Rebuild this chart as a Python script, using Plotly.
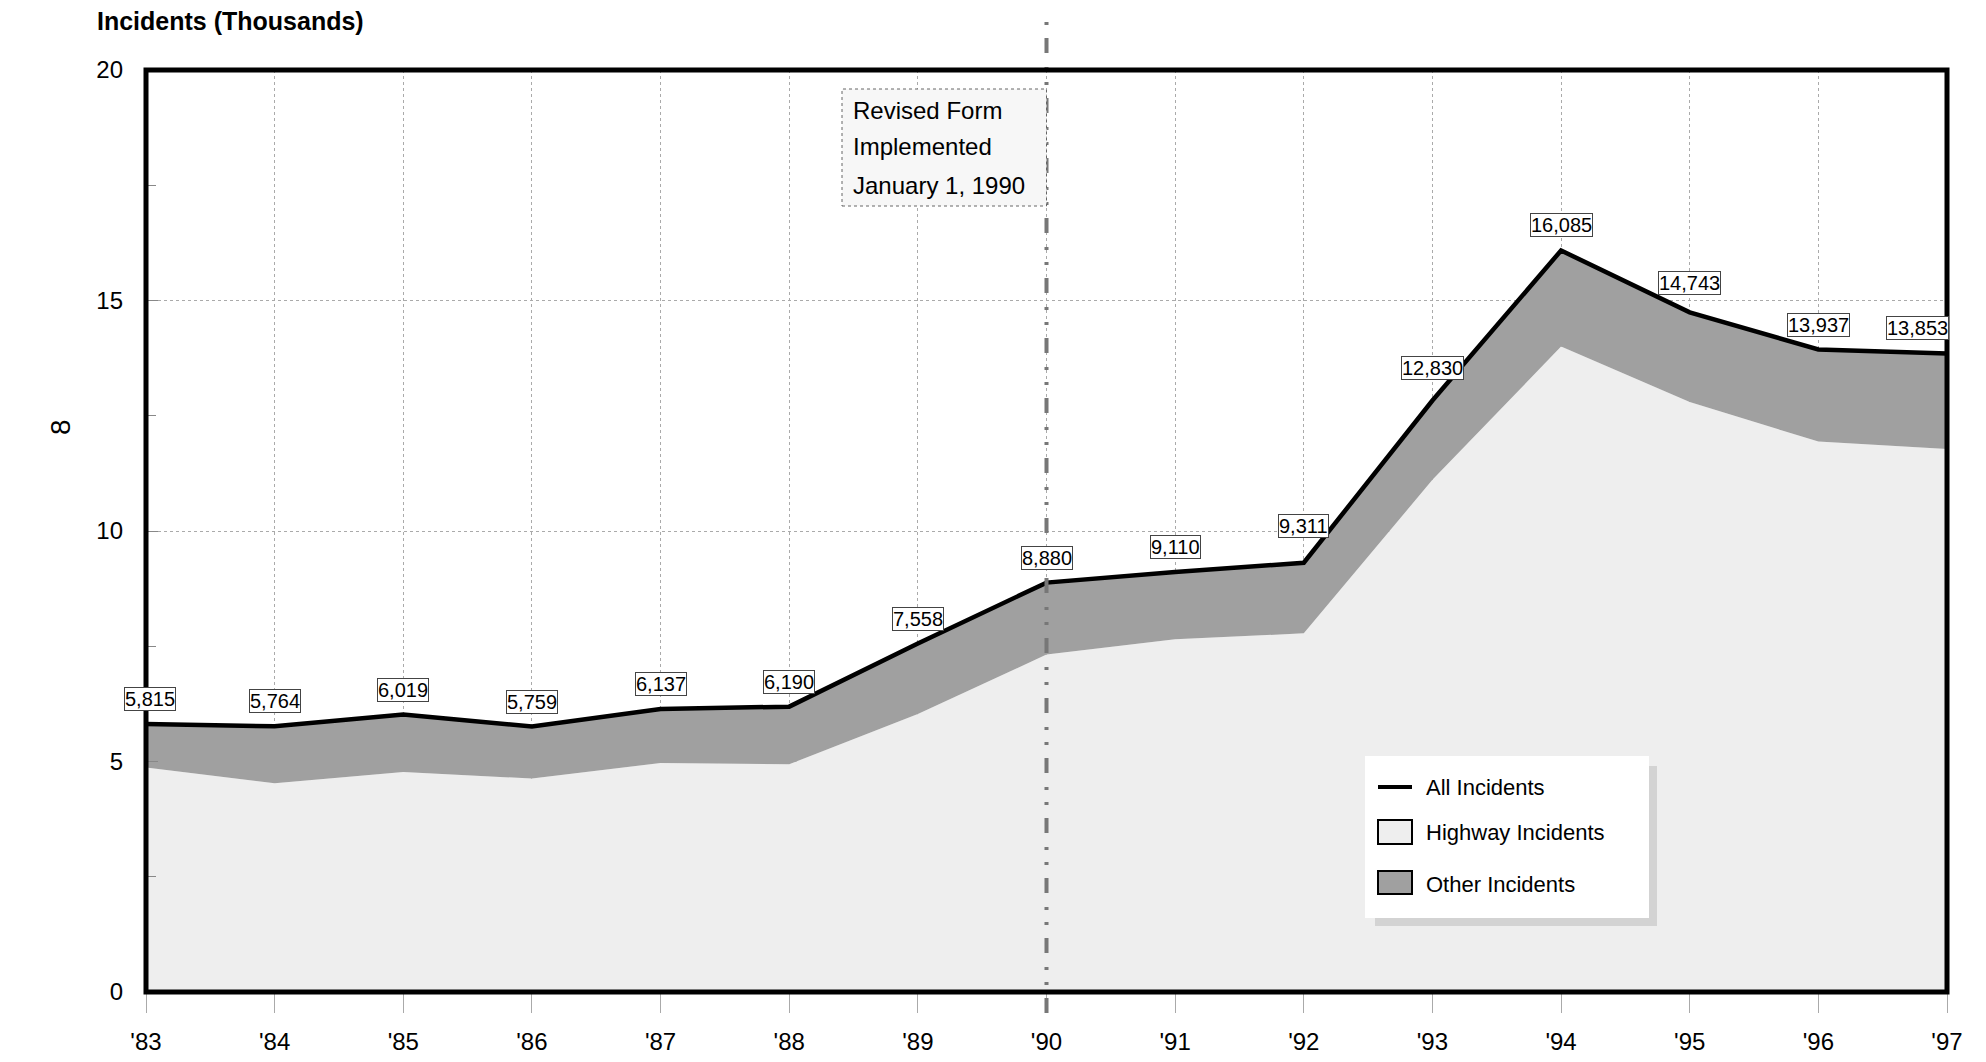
import plotly.graph_objects as go

# ---- data ----
years = [1983, 1984, 1985, 1986, 1987, 1988, 1989, 1990, 1991, 1992, 1993, 1994, 1995, 1996, 1997]
year_labels = ["'83", "'84", "'85", "'86", "'87", "'88", "'89", "'90", "'91", "'92", "'93", "'94", "'95", "'96", "'97"]
all_incidents = [5815, 5764, 6019, 5759, 6137, 6190, 7558, 8880, 9110, 9311, 12830, 16085, 14743, 13937, 13853]
highway_incidents = [4870, 4530, 4770, 4630, 4970, 4940, 6030, 7320, 7650, 7780, 11110, 14000, 12800, 11940, 11780]
y_ticks = [0, 5, 10, 15, 20]
series_names = ["All Incidents", "Highway Incidents", "Other Incidents"]
revision_year = 1990
revision_text = ["Revised Form", "Implemented", "January 1, 1990"]
y_title = "Incidents (Thousands)"

FONT = "Liberation Sans, Arial, sans-serif"
HWY_COLOR = "#EEEEEE"
OTHER_COLOR = "#A0A0A0"

# window geometry (page body has an 8px margin)
OFF = 8
WIN_W, WIN_H = 1986, 1062
PL, PR, PT, PB = 146, 1947, 70, 992   # plot area in window pixels
W, H = WIN_W - 2 * OFF, WIN_H - OFF
L, T = PL - OFF, PT - OFF
R = W + OFF - PR
B = H + OFF - PB
PW, PH = PR - PL, PB - PT


def px(X):
    return (X - PL) / PW


def py(Y):
    return (PB - Y) / PH


fig = go.Figure()

# highway area
fig.add_trace(go.Scatter(
    x=years, y=[v / 1000 for v in highway_incidents], mode="lines",
    line=dict(width=0, color=HWY_COLOR), fill="tozeroy", fillcolor=HWY_COLOR,
    name=series_names[1], showlegend=False, hoverinfo="skip"))
# other = region between highway and all; top edge is the all-incidents line
fig.add_trace(go.Scatter(
    x=years, y=[v / 1000 for v in all_incidents], mode="lines",
    line=dict(width=4.5, color="black"), fill="tonexty", fillcolor=OTHER_COLOR,
    name=series_names[0], showlegend=False))

shapes = []
annotations = []

# revision vertical line
shapes.append(dict(type="line", xref="x", yref="paper", x0=revision_year, x1=revision_year,
                   y0=py(1013), y1=py(20), layer="above",
                   line=dict(color="#777777", width=4, dash="15px,13px,3px,12px,3px,14px")))

# plot border
shapes.append(dict(type="rect", xref="paper", yref="paper", x0=0, x1=1, y0=0, y1=1,
                   layer="above", line=dict(color="black", width=5)))

# revision note box
shapes.append(dict(type="rect", xref="paper", yref="paper", x0=px(842),
                   x1=(revision_year - years[0]) / (years[-1] - years[0]),
                   y0=py(206), y1=py(89), layer="above", fillcolor="#F7F7F7",
                   line=dict(color="#666666", width=1, dash="dot")))
for t, yy in zip(revision_text, [110, 147, 185]):
    annotations.append(dict(xref="paper", yref="paper", x=px(851), y=py(yy), text=t,
                            xanchor="left", yanchor="middle", showarrow=False,
                            font=dict(family=FONT, size=24, color="black")))

# data labels
extra_shift = {1992: 12, 1993: 8, 1995: 4}
for i, (yr, v) in enumerate(zip(years, all_incidents)):
    xs = 0
    if i == 0:
        xs = 4
    if i == len(years) - 1:
        xs = -30
    annotations.append(dict(xref="x", yref="y", x=yr, y=v / 1000, text=f"{v:,}",
                            xanchor="center", yanchor="bottom", showarrow=False,
                            yshift=13 + extra_shift.get(yr, 0), xshift=xs,
                            bgcolor="white", bordercolor="#444444", borderwidth=1, borderpad=0,
                            font=dict(family=FONT, size=20, color="black")))

# axis titles
annotations.append(dict(xref="paper", yref="paper", x=px(95), y=py(21), text=f"<b>{y_title}</b>",
                        xanchor="left", yanchor="middle", showarrow=False,
                        font=dict(family=FONT, size=25, color="black")))
annotations.append(dict(xref="paper", yref="paper", x=px(60), y=py(427), text="8", textangle=-90,
                        xanchor="center", yanchor="middle", showarrow=False,
                        font=dict(family=FONT, size=28, color="black")))

# legend (drawn)
shapes.append(dict(type="rect", xref="paper", yref="paper", x0=px(1375), x1=px(1657), y0=py(926), y1=py(766),
                   layer="above", fillcolor="#D3D3D3", line=dict(width=0)))
shapes.append(dict(type="rect", xref="paper", yref="paper", x0=px(1365), x1=px(1649), y0=py(918), y1=py(756),
                   layer="above", fillcolor="white", line=dict(width=0)))
shapes.append(dict(type="line", xref="paper", yref="paper", x0=px(1378), x1=px(1412), y0=py(787), y1=py(787),
                   layer="above", line=dict(color="black", width=4)))
shapes.append(dict(type="rect", xref="paper", yref="paper", x0=px(1378), x1=px(1412), y0=py(844), y1=py(820),
                   layer="above", fillcolor=HWY_COLOR, line=dict(color="black", width=2)))
shapes.append(dict(type="rect", xref="paper", yref="paper", x0=px(1378), x1=px(1412), y0=py(894), y1=py(871),
                   layer="above", fillcolor=OTHER_COLOR, line=dict(color="black", width=2)))
for name, yy in zip(series_names, [788, 832, 884]):
    annotations.append(dict(xref="paper", yref="paper", x=px(1424), y=py(yy), text=name,
                            xanchor="left", yanchor="middle", showarrow=False,
                            font=dict(family=FONT, size=22, color="black")))

fig.update_layout(
    width=W, height=H,
    margin=dict(l=L, r=R, t=T, b=B, pad=0, autoexpand=False),
    paper_bgcolor="white", plot_bgcolor="white",
    showlegend=False,
    shapes=shapes, annotations=annotations,
    font=dict(family=FONT, color="black"),
    xaxis=dict(range=[years[0], years[-1]], tickvals=years, ticktext=year_labels,
               automargin=False,
               showgrid=True, gridcolor="#AAAAAA", gridwidth=1, griddash="dot",
               ticks="outside", ticklen=20, tickcolor="#AAAAAA", tickwidth=1,
               ticklabelstandoff=8,
               showline=False, zeroline=False, tickfont=dict(family=FONT, size=24, color="black")),
    yaxis=dict(range=[0, 20], tickvals=y_ticks,
               automargin=False,
               showgrid=True, gridcolor="#AAAAAA", gridwidth=1, griddash="dot",
               ticks="inside", ticklen=12, tickcolor="#888888", tickwidth=1,
               minor=dict(dtick=2.5, ticks="inside", ticklen=10, tickcolor="#888888", showgrid=False),
               ticklabelstandoff=22,
               showline=False, zeroline=False, tickfont=dict(family=FONT, size=24, color="black")),
)

fig.write_html("out.html")
